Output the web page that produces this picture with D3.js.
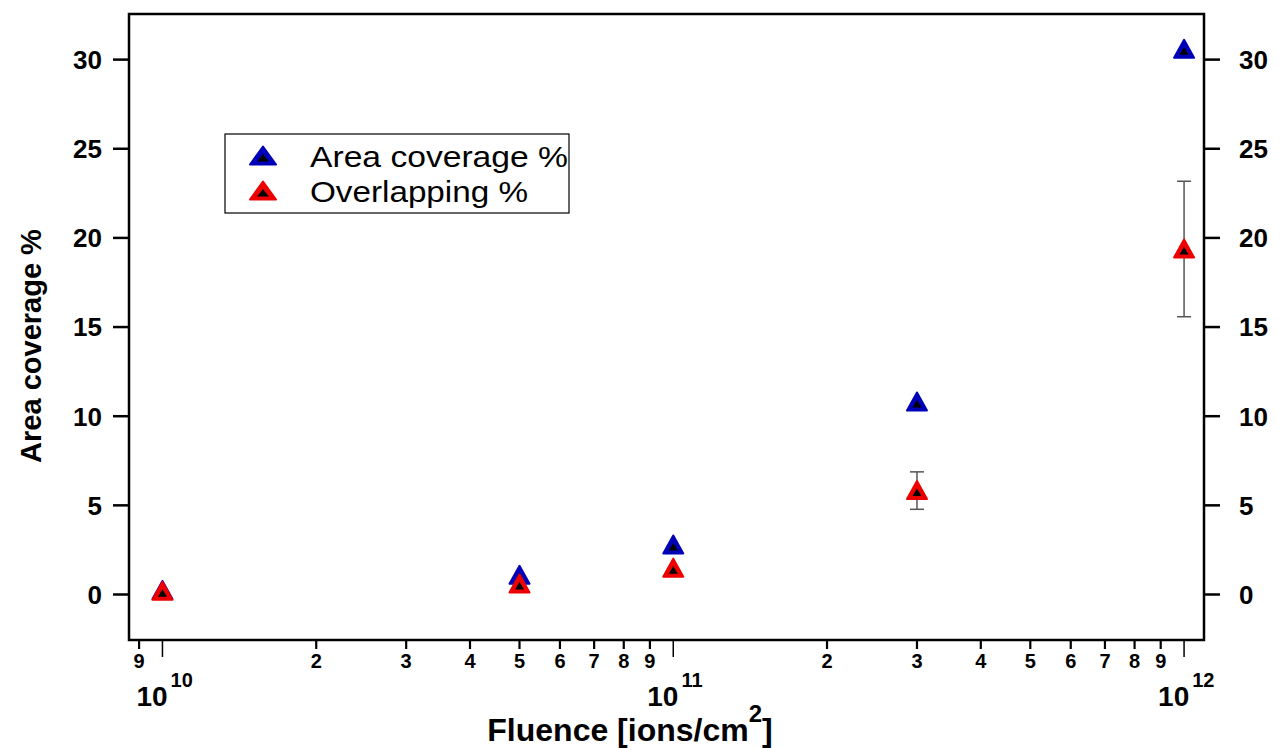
<!DOCTYPE html>
<html>
<head>
<meta charset="utf-8">
<script src="https://cdn.jsdelivr.net/npm/d3@7"></script>
<style>
  body { margin: 0; background: #fff; }
  text { font-family: "Liberation Sans", Arial, sans-serif; }
</style>
</head>
<body>
<div id="chart"></div>
<script>
// data
const fluence = [1e10, 5e10, 1e11, 3e11, 1e12];
const areaCoverage = [0.2, 1.05, 2.75, 10.77, 30.55];
const overlapping = [0.15, 0.56, 1.45, 5.8, 19.35];
const overlapErr = [0, 0, 0, 1.05, 3.8];
const yTicks = [0, 5, 10, 15, 20, 25, 30];
const seriesNames = ["Area coverage %", "Overlapping %"];
const seriesColors = ["#0000b8", "#ee0000"];

const W = 1288, H = 748;
const margin = { top: 14, right: 84, bottom: 108, left: 129 };
const width = W - margin.left - margin.right,
      height = H - margin.top - margin.bottom;

const svg = d3.select("#chart").append("svg")
    .attr("width", W).attr("height", H);
const g = svg.append("g")
    .attr("transform", "translate(" + margin.left + "," + margin.top + ")");

const x = d3.scaleLog().domain([8.6e9, 1.094e12]).range([0, width]);
const y = d3.scaleLinear().domain([-2.58, 32.53]).range([height, 0]);

// frame
g.append("rect").attr("width", width).attr("height", height)
    .attr("fill", "none").attr("stroke", "#000").attr("stroke-width", 2.5);

// y axis left / right
const yl = g.append("g").call(d3.axisLeft(y).tickValues(yTicks).tickSize(16).tickPadding(11));
const yr = g.append("g").attr("transform", "translate(" + width + ",0)")
    .call(d3.axisRight(y).tickValues(yTicks).tickSize(16).tickPadding(19));
[yl, yr].forEach(a => {
  a.select(".domain").remove();
  a.selectAll(".tick line").attr("stroke-width", 2.5);
  a.selectAll("text").attr("font-size", 26).attr("font-weight", "bold")
      .attr("fill", "#000").attr("dy", "0.36em");
});

// x axis: minor ticks with digit labels, decades with 10^n
const minor = [];
[9e9].concat(d3.range(2, 10).map(d => d * 1e10), d3.range(2, 10).map(d => d * 1e11))
  .forEach(v => { if (v <= 1.094e12) minor.push(v); });
const major = [1e10, 1e11, 1e12];

const xa = g.append("g").attr("transform", "translate(0," + height + ")");
xa.selectAll(".minor").data(minor).enter().append("line")
    .attr("x1", d => x(d)).attr("x2", d => x(d)).attr("y1", 0).attr("y2", 9)
    .attr("stroke", "#000").attr("stroke-width", 2.2);
xa.selectAll(".minorlab").data(minor).enter().append("text")
    .attr("x", d => x(d)).attr("y", 28).attr("text-anchor", "middle")
    .attr("font-size", 20).attr("font-weight", "bold")
    .text(d => Math.round(d / Math.pow(10, Math.floor(Math.log10(d) + 1e-9))));
xa.selectAll(".major").data(major).enter().append("line")
    .attr("x1", d => x(d)).attr("x2", d => x(d)).attr("y1", 0).attr("y2", 17)
    .attr("stroke", "#000").attr("stroke-width", 1.5);
const ml = xa.selectAll(".majorlab").data(major).enter().append("text")
    .attr("x", d => x(d) - 26).attr("y", 66)
    .attr("font-size", 28).attr("font-weight", "bold");
ml.append("tspan").text("10");
ml.append("tspan").attr("dy", -19).attr("dx", 3).attr("font-size", 20)
    .text(d => Math.round(Math.log10(d)));

// axis titles
svg.append("text")
    .attr("transform", "translate(41,346) rotate(-90)")
    .attr("text-anchor", "middle").attr("font-size", 29).attr("font-weight", "bold")
    .text("Area coverage %");
const xt = svg.append("text")
    .attr("x", 630).attr("y", 741).attr("text-anchor", "middle")
    .attr("font-size", 32).attr("font-weight", "bold");
xt.append("tspan").text("Fluence [ions/cm");
xt.append("tspan").attr("dy", -19).attr("font-size", 24).text("2");
xt.append("tspan").attr("dy", 19).text("]");

// error bars for overlapping
const errData = fluence.map((f, i) => ({ f: f, v: overlapping[i], e: overlapErr[i] })).filter(d => d.e > 0);
const eb = g.selectAll(".err").data(errData).enter().append("g").attr("stroke", "#555").attr("stroke-width", 1.5);
eb.append("line").attr("x1", d => x(d.f)).attr("x2", d => x(d.f))
    .attr("y1", d => y(d.v + d.e)).attr("y2", d => y(d.v - d.e));
eb.append("line").attr("x1", d => x(d.f) - 7).attr("x2", d => x(d.f) + 7)
    .attr("y1", d => y(d.v + d.e)).attr("y2", d => y(d.v + d.e));
eb.append("line").attr("x1", d => x(d.f) - 7).attr("x2", d => x(d.f) + 7)
    .attr("y1", d => y(d.v - d.e)).attr("y2", d => y(d.v - d.e));

// triangle markers
function marker(sel, color, sx) {
  sx = sx || 1;
  sel.append("path").attr("d", `M0,-9.5 L${10 * sx},8.5 L${-10 * sx},8.5 Z`).attr("fill", color)
      .attr("stroke", color).attr("stroke-width", 2).attr("stroke-linejoin", "round");
  sel.append("path").attr("d", `M0,-2 L${4.5 * sx},5.5 L${-4.5 * sx},5.5 Z`).attr("fill", "#000");
}
[areaCoverage, overlapping].forEach((vals, s) => {
  g.selectAll(".pt" + s).data(fluence).enter().append("g")
      .attr("transform", (d, i) => "translate(" + x(d) + "," + y(vals[i]) + ")")
      .each(function () { marker(d3.select(this), seriesColors[s]); });
});

// legend
const legendLen = [258, 218];
const lg = svg.append("g").attr("transform", "translate(225,134)");
lg.append("rect").attr("width", 344).attr("height", 79)
    .attr("fill", "#fff").attr("stroke", "#000").attr("stroke-width", 1.2);
seriesNames.forEach((n, i) => {
  const row = lg.append("g").attr("transform", "translate(0," + (22 + i * 35) + ")");
  marker(row.append("g").attr("transform", "translate(38,0)"), seriesColors[i], 1.3);
  row.append("text").attr("x", 85).attr("y", 11).attr("font-size", 29)
      .attr("textLength", legendLen[i]).attr("lengthAdjust", "spacingAndGlyphs").text(n);
});
</script>
</body>
</html>
